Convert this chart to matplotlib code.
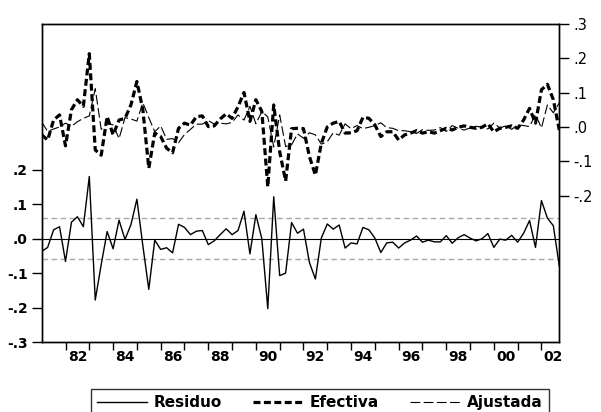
import matplotlib
matplotlib.use('Agg')
import matplotlib.pyplot as plt
import numpy as np
from matplotlib.lines import Line2D

plt.rcParams['font.family'] = ['DejaVu Sans']
plt.rcParams['lines.scale_dashes'] = False

# Quarterly data 1981Q1 - 2002Q4
start_year = 1981
residuo = [-0.037, -0.025, 0.026, 0.035, -0.066, 0.048, 0.064, 0.035, 0.181, -0.178,
           -0.075, 0.021, -0.029, 0.054, -0.002, 0.041, 0.115, -0.020, -0.147, -0.004,
           -0.031, -0.026, -0.041, 0.042, 0.033, 0.012, 0.022, 0.024, -0.017, -0.006,
           0.012, 0.029, 0.012, 0.024, 0.080, -0.044, 0.070, 0.000, -0.203, 0.122,
           -0.107, -0.100, 0.047, 0.016, 0.028, -0.069, -0.117, 0.002, 0.043, 0.028,
           0.040, -0.027, -0.012, -0.015, 0.033, 0.026, 0.002, -0.040, -0.012, -0.010,
           -0.027, -0.012, -0.004, 0.008, -0.010, -0.004, -0.009, -0.009, 0.009, -0.013,
           0.003, 0.012, 0.002, -0.006, 0.000, 0.015, -0.025, -0.001, -0.004, 0.010,
           -0.010, 0.016, 0.053, -0.025, 0.111, 0.060, 0.038, -0.079]
efectiva = [-0.023, -0.038, 0.020, 0.035, -0.055, 0.050, 0.079, 0.060, 0.213, -0.067,
            -0.082, 0.030, -0.023, 0.020, 0.025, 0.064, 0.132, 0.050, -0.120, -0.018,
            -0.028, -0.062, -0.075, -0.004, 0.011, 0.005, 0.030, 0.032, 0.001, 0.003,
            0.023, 0.038, 0.025, 0.059, 0.100, 0.016, 0.079, 0.045, -0.174, 0.064,
            -0.072, -0.157, -0.005, -0.004, -0.005, -0.086, -0.140, -0.048, 0.000, 0.011,
            0.016, -0.018, -0.017, -0.011, 0.028, 0.025, 0.006, -0.028, -0.014, -0.014,
            -0.038, -0.023, -0.018, -0.011, -0.018, -0.014, -0.018, -0.011, -0.004, -0.009,
            -0.001, 0.003, -0.001, -0.004, -0.001, 0.009, -0.014, -0.004, -0.001, 0.003,
            -0.004, 0.020, 0.054, 0.011, 0.108, 0.124, 0.079, -0.009]
ajustada = [0.014, -0.013, -0.006, 0.000, 0.011, 0.002, 0.015, 0.025, 0.032, 0.111,
            -0.007, 0.009, 0.006, -0.034, 0.027, 0.023, 0.017, 0.070, 0.027, -0.014,
            0.003, -0.036, -0.034, -0.046, -0.022, -0.007, 0.008, 0.008, 0.018, 0.009,
            0.011, 0.009, 0.013, 0.035, 0.020, 0.060, 0.009, 0.045, 0.029, -0.058,
            0.035, -0.057, -0.052, -0.020, -0.033, -0.017, -0.023, -0.050, -0.043, -0.017,
            -0.024, 0.009, -0.005, 0.004, -0.005, -0.001, 0.004, 0.012, -0.002, -0.004,
            -0.011, -0.011, -0.014, -0.019, -0.008, -0.010, -0.009, -0.002, -0.013, 0.004,
            -0.004, -0.009, -0.003, 0.002, -0.001, -0.006, 0.011, -0.003, 0.003, -0.007,
            0.006, 0.004, 0.001, 0.036, -0.003, 0.064, 0.041, 0.070]
std_err = 0.059

left_ticks = [-0.3, -0.2, -0.1, 0.0, 0.1, 0.2]
left_labels = ['-.3', '-.2', '-.1', '.0', '.1', '.2']
right_ticks = [-0.2, -0.1, 0.0, 0.1, 0.2, 0.3]
right_labels = ['-.2', '-.1', '.0', '.1', '.2', '.3']
year_ticks = list(range(1982, 2003))
label_years = list(range(1982, 2003, 2))
year_labels = ['82', '84', '86', '88', '90', '92', '94', '96', '98', '00', '02']
legend_labels = ['Residuo', 'Efectiva', 'Ajustada']

x = start_year + np.arange(len(residuo)) / 4.0

fig = plt.figure(figsize=(6.01, 4.12), dpi=100)
ax = fig.add_axes([0.0694, 0.1699, 0.8612, 0.7726])
ax2 = ax.twinx()

ax.axhline(0, color='black', lw=0.8)
ax.axhline(std_err, color='#a8a8a8', lw=1.0, dashes=(4, 2.5))
ax.axhline(-std_err, color='#a8a8a8', lw=1.0, dashes=(4, 2.5))
ax.plot(x, residuo, color='black', lw=1.0)

ax2.plot(x, efectiva, color='black', lw=2.3, dashes=(5, 2.5))
ax2.plot(x, ajustada, color='black', lw=0.8, dashes=(7, 2.5))

ax.set_xlim(start_year, start_year + (len(residuo) - 1) / 4.0)
ax.set_ylim(-0.3, 0.625)
ax2.set_ylim(-0.625, 0.3)

ax.set_yticks(left_ticks)
ax.set_yticklabels(left_labels, fontsize=10, fontweight='bold')
ax2.set_yticks(right_ticks)
ax2.set_yticklabels(right_labels, fontsize=10.5)

ax.set_xticks(year_ticks)
ax.set_xticklabels([])
ax.set_xticks([y + 0.5 for y in label_years], minor=True)
ax.set_xticklabels(year_labels, minor=True, fontsize=10, fontweight='bold')
ax.tick_params(axis='x', which='major', direction='out', length=6, width=1.0)
ax.tick_params(axis='x', which='minor', length=0, pad=6)
ax.tick_params(axis='y', direction='out', length=7, width=1.0, pad=3)
ax2.tick_params(axis='y', direction='out', length=7, width=1.0, pad=3)

for a in (ax, ax2):
    for s in a.spines.values():
        s.set_linewidth(1.0)
        s.set_color('black')

handles = [Line2D([], [], color='black', lw=1.0),
           Line2D([], [], color='black', lw=2.3, dashes=(5, 2.5)),
           Line2D([], [], color='black', lw=0.8, dashes=(7, 2.5))]
leg = fig.legend(handles, legend_labels, loc='upper center',
                 bbox_to_anchor=(0.532, 1 - 389 / 412.0), ncol=3,
                 prop={'weight': 'bold', 'size': 11}, frameon=True,
                 fancybox=False, edgecolor='black', handlelength=3.3,
                 handletextpad=0.45, columnspacing=2.0, borderpad=0.4,
                 borderaxespad=0)
leg.get_frame().set_linewidth(1.0)

fig.savefig('out.png', dpi=100)
